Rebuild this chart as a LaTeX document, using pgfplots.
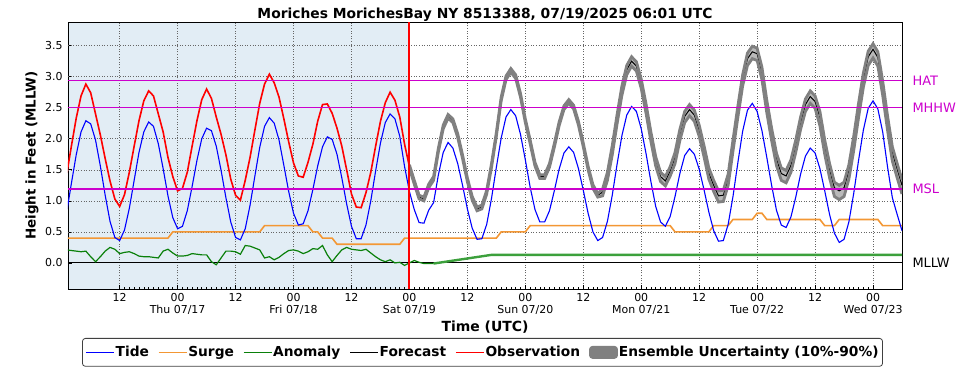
\documentclass[border=0pt]{standalone}
\usepackage{fontspec}
\setmainfont{DejaVu Sans}
\usepackage{pgfplots}
\usepackage{pgfplotstable}
\pgfplotsset{compat=1.18}
\definecolor{bgblue}{RGB}{226,237,245}
\definecolor{tideblue}{RGB}{0,0,255}
\definecolor{surgeorange}{RGB}{243,151,52}
\definecolor{anomgreen}{RGB}{10,128,10}
\definecolor{anomgreenf}{RGB}{60,160,60}
\definecolor{datummag}{RGB}{204,0,204}
\definecolor{ensedge}{RGB}{128,128,128}
\definecolor{ensfill}{RGB}{185,185,185}
\pgfdeclarehorizontalshading{bgsplit}{100bp}{color(0bp)=(bgblue); color(45.47bp)=(bgblue); color(45.48bp)=(white); color(100bp)=(white)}

\pgfplotstableread{
h v
-71 0.80
-70 1.28
-69 1.74
-68 2.11
-67 2.29
-66 2.24
-65 1.98
-64 1.56
-63 1.09
-62 0.67
-61 0.41
-60 0.36
-59 0.53
-58 0.88
-57 1.33
-56 1.78
-55 2.11
-54 2.27
-53 2.20
-52 1.92
-51 1.52
-50 1.08
-49 0.73
-48 0.55
-47 0.59
-46 0.84
-45 1.23
-44 1.65
-43 2.00
-42 2.17
-41 2.13
-40 1.88
-39 1.49
-38 1.05
-37 0.66
-36 0.41
-35 0.37
-34 0.55
-33 0.93
-32 1.40
-31 1.86
-30 2.20
-29 2.34
-28 2.25
-27 1.98
-26 1.57
-25 1.15
-24 0.80
-23 0.61
-22 0.63
-21 0.84
-20 1.18
-19 1.56
-18 1.87
-17 2.03
-16 1.99
-15 1.75
-14 1.37
-13 0.95
-12 0.59
-11 0.39
-10 0.39
-9 0.61
-8 1.00
-7 1.48
-6 1.93
-5 2.26
-4 2.40
-3 2.32
-2 2.04
-1 1.55
0 1.15
1 0.86
2 0.65
3 0.64
4 0.85
5 0.97
6 1.42
7 1.78
8 1.94
9 1.85
10 1.60
11 1.25
12 0.87
13 0.56
14 0.38
15 0.39
16 0.62
17 1.04
18 1.54
19 2.01
20 2.35
21 2.47
22 2.37
23 2.07
24 1.66
25 1.22
26 0.86
27 0.66
28 0.66
29 0.84
30 1.16
31 1.51
32 1.77
33 1.87
34 1.78
35 1.52
36 1.17
37 0.80
38 0.50
39 0.36
40 0.41
41 0.67
42 1.09
43 1.59
44 2.05
45 2.38
46 2.52
47 2.44
48 2.16
49 1.76
50 1.31
51 0.91
52 0.66
53 0.59
54 0.75
55 1.07
56 1.44
57 1.73
58 1.84
59 1.75
60 1.51
61 1.18
62 0.82
63 0.52
64 0.35
65 0.36
66 0.62
67 1.07
68 1.61
69 2.12
70 2.46
71 2.57
72 2.44
73 2.13
74 1.70
75 1.25
76 0.85
77 0.61
78 0.57
79 0.74
80 1.06
81 1.43
82 1.72
83 1.85
84 1.77
85 1.52
86 1.16
87 0.78
88 0.48
89 0.33
90 0.38
91 0.66
92 1.12
93 1.65
94 2.14
95 2.49
96 2.61
97 2.48
98 2.11
99 1.55
100 1.05
101 0.78
102 0.52
}\tidetab

\pgfplotstableread{
h v
-71 1.41
-70 1.88
-69 2.33
-68 2.69
-67 2.88
-66 2.74
-65 2.40
-64 2.06
-63 1.68
-62 1.32
-61 1.03
-60 0.91
-59 1.10
-58 1.46
-57 1.88
-56 2.29
-55 2.61
-54 2.77
-53 2.69
-52 2.40
-51 2.11
-50 1.70
-49 1.39
-48 1.16
-47 1.20
-46 1.46
-45 1.88
-44 2.29
-43 2.63
-42 2.80
-41 2.65
-40 2.35
-39 2.07
-38 1.74
-37 1.35
-36 1.09
-35 1.01
-34 1.33
-33 1.70
-32 2.14
-31 2.57
-30 2.88
-29 3.04
-28 2.90
-27 2.67
-26 2.32
-25 1.95
-24 1.61
-23 1.40
-22 1.38
-21 1.62
-20 1.91
-19 2.28
-18 2.55
-17 2.56
-16 2.41
-15 2.17
-14 1.88
-13 1.50
-12 1.11
-11 0.90
-10 0.89
-9 1.13
-8 1.46
-7 1.88
-6 2.28
-5 2.58
-4 2.75
-3 2.62
-2 2.35
-1 1.91
0 1.55
}\obstab

\pgfplotstableread{
h v
-71 0.21
-70 0.20
-69 0.19
-68 0.18
-67 0.19
-66 0.10
-65 0.02
-64 0.10
-63 0.19
-62 0.25
-61 0.22
-60 0.15
-59 0.17
-58 0.18
-57 0.15
-56 0.11
-55 0.10
-54 0.10
-53 0.09
-52 0.08
-51 0.19
-50 0.22
-49 0.16
-48 0.11
-47 0.11
-46 0.12
-45 0.15
-44 0.14
-43 0.13
-42 0.13
-41 0.02
-40 -0.03
-39 0.08
-38 0.19
-37 0.19
-36 0.18
-35 0.14
-34 0.28
-33 0.27
-32 0.24
-31 0.21
-30 0.08
-29 0.10
-28 0.05
-27 0.09
-26 0.15
-25 0.20
-24 0.21
-23 0.19
-22 0.15
-21 0.18
-20 0.23
-19 0.22
-18 0.28
-17 0.13
-16 0.02
-15 0.12
-14 0.21
-13 0.25
-12 0.22
-11 0.21
-10 0.20
-9 0.22
-8 0.16
-7 0.10
-6 0.05
-5 0.02
-4 0.05
-3 0.00
-2 0.01
-1 -0.04
0 0.00
1 0.04
2 0.01
3 -0.01
5 -0.01
}\anomtab

\pgfplotstableread{
h fc up lo
0 1.55 1.58 1.52
1 1.30 1.33 1.27
2 1.06 1.09 1.03
3 1.03 1.06 1.00
4 1.24 1.27 1.21
5 1.36 1.39 1.33
6 1.82 1.85 1.79
7 2.19 2.22 2.16
8 2.36 2.39 2.33
9 2.29 2.32 2.26
10 2.05 2.08 2.02
11 1.71 1.74 1.68
12 1.34 1.37 1.31
13 1.04 1.07 1.01
14 0.87 0.90 0.84
15 0.90 0.93 0.87
16 1.14 1.17 1.11
17 1.57 1.60 1.54
18 2.07 2.10 2.04
19 2.64 2.67 2.61
20 2.98 3.01 2.95
21 3.10 3.13 3.07
22 3.00 3.03 2.97
23 2.70 2.73 2.67
24 2.29 2.32 2.26
25 1.95 1.98 1.92
26 1.59 1.62 1.56
27 1.39 1.42 1.36
28 1.39 1.42 1.36
29 1.57 1.60 1.54
30 1.89 1.92 1.86
31 2.24 2.27 2.21
32 2.50 2.53 2.47
33 2.60 2.63 2.57
34 2.51 2.54 2.48
35 2.25 2.28 2.22
36 1.90 1.93 1.87
37 1.53 1.56 1.50
38 1.23 1.26 1.20
39 1.09 1.12 1.06
40 1.14 1.19 1.08
41 1.40 1.46 1.33
42 1.82 1.89 1.74
43 2.32 2.39 2.24
44 2.78 2.85 2.70
45 3.11 3.18 3.03
46 3.25 3.32 3.17
47 3.17 3.24 3.09
48 2.89 2.96 2.81
49 2.49 2.56 2.41
50 2.04 2.11 1.96
51 1.64 1.71 1.56
52 1.39 1.46 1.31
53 1.32 1.39 1.24
54 1.48 1.55 1.40
55 1.70 1.78 1.60
56 2.07 2.15 1.97
57 2.36 2.44 2.26
58 2.47 2.55 2.37
59 2.38 2.46 2.28
60 2.14 2.22 2.04
61 1.81 1.89 1.71
62 1.45 1.53 1.35
63 1.25 1.33 1.15
64 1.08 1.16 0.98
65 1.09 1.17 0.99
66 1.35 1.43 1.25
67 1.90 1.98 1.80
68 2.44 2.52 2.34
69 2.95 3.03 2.85
70 3.29 3.38 3.18
71 3.40 3.49 3.29
72 3.37 3.46 3.26
73 3.06 3.15 2.95
74 2.53 2.62 2.42
75 2.08 2.17 1.97
76 1.68 1.77 1.57
77 1.44 1.53 1.33
78 1.40 1.49 1.29
79 1.57 1.66 1.46
80 1.89 1.98 1.78
81 2.26 2.35 2.15
82 2.55 2.64 2.44
83 2.68 2.77 2.57
84 2.60 2.69 2.49
85 2.35 2.44 2.21
86 1.89 1.98 1.75
87 1.51 1.60 1.37
88 1.21 1.30 1.07
89 1.16 1.25 1.02
90 1.21 1.30 1.07
91 1.49 1.58 1.35
92 1.95 2.04 1.81
93 2.48 2.57 2.34
94 2.97 3.06 2.83
95 3.32 3.41 3.18
96 3.44 3.53 3.30
97 3.31 3.40 3.17
98 2.84 2.93 2.70
99 2.28 2.37 2.14
100 1.78 1.87 1.64
101 1.51 1.60 1.37
102 1.25 1.34 1.11
}\fctab

\begin{document}
\begin{tikzpicture}
\begin{axis}[
  at={(0,0)}, anchor=south west,
  scale only axis, width=834bp, height=267bp,
  xmin=-70.7, xmax=102, ymin=-0.42, ymax=3.88,
  clip mode=individual,
  axis background/.style={shade, shading=bgsplit},
  axis line style={black, line width=0.9bp},
  tick pos=left,
  tick style={black, line width=0.6bp},
  major tick length=4bp, minor tick length=2.5bp,
  xtick={-60,-48,-36,-24,-12,0,12,24,36,48,60,72,84,96},
  xticklabels={12,{00\\Thu 07/17},12,{00\\Fri 07/18},12,{00\\Sat 07/19},12,{00\\Sun 07/20},12,{00\\Mon 07/21},12,{00\\Tue 07/22},12,{00\\Wed 07/23}},
  minor x tick num=11,
  xticklabel style={align=center, font=\fontsize{11}{12}\selectfont, yshift=-1bp},
  ytick={0,0.5,1,1.5,2,2.5,3,3.5},
  yticklabel style={font=\fontsize{11}{12}\selectfont, xshift=-2bp,
    /pgf/number format/.cd, fixed, fixed zerofill, precision=1, assume math mode=true},
  xmajorgrids=true,
  ymajorgrids=false,
  major grid style={black!60, line width=0.55bp, dash pattern=on 1bp off 1.6bp},
  xlabel={Time (UTC)},
  xlabel style={font=\fontsize{14}{16}\selectfont\bfseries, at={(axis description cs:0.5,-0.1423)}, anchor=center},
  ylabel={Height in Feet (MLLW)},
  ylabel style={font=\fontsize{13.5}{16}\selectfont\bfseries, at={(axis description cs:-0.0432,0.5)}, anchor=center},
  legend columns=6,
  legend cell align=left,
  legend image code/.code={\draw[#1] (0bp,0bp) -- (28bp,0bp);},
  legend style={at={(0.497,-0.1835)}, anchor=north, draw=black!75, line width=0.8bp, rounded corners=3bp,
    font=\fontsize{13.8}{15}\selectfont\bfseries, inner xsep=3bp, inner ysep=6bp,
    nodes={inner xsep=1bp, inner ysep=2bp},
    /tikz/every even column/.append style={column sep=8bp}},
]
% horizontal grid lines (drawn by hand, the 2.5 one is covered by MHHW)
\draw[black!60, line width=0.55bp, dash pattern=on 1bp off 1.6bp] (axis cs:-70.7,0.5) -- (axis cs:102,0.5);
\draw[black!60, line width=0.55bp, dash pattern=on 1bp off 1.6bp] (axis cs:-70.7,1.0) -- (axis cs:102,1.0);
\draw[black!60, line width=0.55bp, dash pattern=on 1bp off 1.6bp] (axis cs:-70.7,1.5) -- (axis cs:102,1.5);
\draw[black!60, line width=0.55bp, dash pattern=on 1bp off 1.6bp] (axis cs:-70.7,2.0) -- (axis cs:102,2.0);
\draw[black!60, line width=0.55bp, dash pattern=on 1bp off 1.6bp] (axis cs:-70.7,3.0) -- (axis cs:102,3.0);
\draw[black!60, line width=0.55bp, dash pattern=on 1bp off 1.6bp] (axis cs:-70.7,3.5) -- (axis cs:102,3.5);

\addplot[draw=black, line width=1bp, forget plot] coordinates {(-70.7,0) (102,0)};

% ensemble band: 90% forward, 10% backward (opaque light fill)
\addplot[fill=ensfill, draw=none, forget plot] coordinates {
(0,1.58) (1,1.33) (2,1.09) (3,1.06) (4,1.27) (5,1.39) (6,1.85) (7,2.22) (8,2.39) (9,2.32) (10,2.08)
(11,1.74) (12,1.37) (13,1.07) (14,0.90) (15,0.93) (16,1.17) (17,1.60) (18,2.10) (19,2.67) (20,3.01)
(21,3.13) (22,3.03) (23,2.73) (24,2.32) (25,1.98) (26,1.62) (27,1.42) (28,1.42) (29,1.60) (30,1.92)
(31,2.27) (32,2.53) (33,2.63) (34,2.54) (35,2.28) (36,1.93) (37,1.56) (38,1.26) (39,1.12) (40,1.19)
(41,1.46) (42,1.89) (43,2.39) (44,2.85) (45,3.18) (46,3.32) (47,3.24) (48,2.96) (49,2.56) (50,2.11)
(51,1.71) (52,1.46) (53,1.39) (54,1.55) (55,1.78) (56,2.15) (57,2.44) (58,2.55) (59,2.46) (60,2.22)
(61,1.89) (62,1.53) (63,1.33) (64,1.16) (65,1.17) (66,1.43) (67,1.98) (68,2.52) (69,3.03) (70,3.38)
(71,3.49) (72,3.46) (73,3.15) (74,2.62) (75,2.17) (76,1.77) (77,1.53) (78,1.49) (79,1.66) (80,1.98)
(81,2.35) (82,2.64) (83,2.77) (84,2.69) (85,2.44) (86,1.98) (87,1.60) (88,1.30) (89,1.25) (90,1.30)
(91,1.58) (92,2.04) (93,2.57) (94,3.06) (95,3.41) (96,3.53) (97,3.40) (98,2.93) (99,2.37) (100,1.87)
(101,1.60) (102,1.34)
(102,1.11) (101,1.37) (100,1.64) (99,2.14) (98,2.70) (97,3.17) (96,3.30) (95,3.18) (94,2.83) (93,2.34)
(92,1.81) (91,1.35) (90,1.07) (89,1.02) (88,1.07) (87,1.37) (86,1.75) (85,2.21) (84,2.49) (83,2.57)
(82,2.44) (81,2.15) (80,1.78) (79,1.46) (78,1.29) (77,1.33) (76,1.57) (75,1.97) (74,2.42) (73,2.95)
(72,3.26) (71,3.29) (70,3.18) (69,2.85) (68,2.34) (67,1.80) (66,1.25) (65,0.99) (64,0.98) (63,1.15)
(62,1.35) (61,1.71) (60,2.04) (59,2.28) (58,2.37) (57,2.26) (56,1.97) (55,1.60) (54,1.40) (53,1.24)
(52,1.31) (51,1.56) (50,1.96) (49,2.41) (48,2.81) (47,3.09) (46,3.17) (45,3.03) (44,2.70) (43,2.24)
(42,1.74) (41,1.33) (40,1.08) (39,1.06) (38,1.20) (37,1.50) (36,1.87) (35,2.22) (34,2.48) (33,2.57)
(32,2.47) (31,2.21) (30,1.86) (29,1.54) (28,1.36) (27,1.36) (26,1.56) (25,1.92) (24,2.26) (23,2.67)
(22,2.97) (21,3.07) (20,2.95) (19,2.61) (18,2.04) (17,1.54) (16,1.11) (15,0.87) (14,0.84) (13,1.01)
(12,1.31) (11,1.68) (10,2.02) (9,2.26) (8,2.33) (7,2.16) (6,1.79) (5,1.33) (4,1.21) (3,1.00)
(2,1.03) (1,1.27) (0,1.52)};

% forecast
\addplot[black, line width=1bp, forget plot] table[x=h,y=fc]{\fctab};
\addplot[ensedge, line width=2.8bp, forget plot] table[x=h,y=up]{\fctab};
\addplot[ensedge, line width=2.8bp, forget plot] table[x=h,y=lo]{\fctab};

% surge
\addplot[surgeorange, line width=1.6bp, forget plot] coordinates {
(-71,0.4) (-50,0.4) (-49,0.5) (-31,0.5) (-30,0.6) (-21,0.6) (-20,0.5) (-19,0.5) (-18,0.4) (-16,0.4) (-15,0.3)
(-2,0.3) (-1,0.4) (18,0.4) (19,0.5) (24,0.5) (25,0.6) (54,0.6) (55,0.5) (62,0.5) (63,0.6) (66,0.6) (67,0.7)
(71,0.7) (72,0.8) (73,0.8) (74,0.7) (85,0.7) (86,0.6) (88,0.6) (89,0.7) (97,0.7) (98,0.6) (102,0.6)};

% anomaly
\addplot[anomgreenf, line width=2.4bp, forget plot] coordinates {(5,-0.01) (17,0.13) (102,0.13)};
\addplot[anomgreen, line width=1.2bp, forget plot] table[x=h,y=v]{\anomtab};

% tide
\addplot[tideblue, line width=1.1bp, forget plot] table[x=h,y=v]{\tidetab};

% observation
\addplot[red, line width=1.6bp, forget plot] table[x=h,y=v]{\obstab};

% datum lines (on top)
\addplot[draw=datummag, line width=1.2bp, forget plot] coordinates {(-70.7,2.94) (102,2.94)};
\addplot[draw=datummag, line width=1.2bp, forget plot] coordinates {(-70.7,2.50) (102,2.50)};
\addplot[draw=datummag, line width=1.2bp, forget plot] coordinates {(-70.7,1.19) (102,1.19)};

% now line
\addplot[red, line width=2bp, forget plot] coordinates {(0,-0.42) (0,3.88)};

\node[anchor=center, font=\fontsize{13.9}{16}\selectfont\bfseries, yshift=7bp] at (rel axis cs:0.5,1) {Moriches MorichesBay NY 8513388, 07/19/2025 06:01 UTC};
\node[anchor=west, text=datummag, font=\fontsize{13}{15}\selectfont] at (axis cs:102,2.94) {\hspace{7bp}HAT};
\node[anchor=west, text=datummag, font=\fontsize{13}{15}\selectfont] at (axis cs:102,2.50) {\hspace{7bp}MHHW};
\node[anchor=west, text=datummag, font=\fontsize{13}{15}\selectfont] at (axis cs:102,1.19) {\hspace{7bp}MSL};
\node[anchor=west, text=black, font=\fontsize{13}{15}\selectfont] at (axis cs:102,0) {\hspace{7bp}MLLW};

\addlegendimage{tideblue, line width=1.3bp}
\addlegendentry{Tide}
\addlegendimage{surgeorange, line width=1.3bp}
\addlegendentry{Surge}
\addlegendimage{anomgreen, line width=1.3bp}
\addlegendentry{Anomaly}
\addlegendimage{black, line width=1.3bp}
\addlegendentry{Forecast}
\addlegendimage{red, line width=1.3bp}
\addlegendentry{Observation}
\addlegendimage{legend image code/.code={\fill[ensedge] (0bp,-6bp) rectangle (28bp,6bp);}}
\addlegendentry{Ensemble Uncertainty (10\%-90\%)}
\end{axis}
\pgfresetboundingbox
\path[use as bounding box] (-68bp,-81bp) rectangle (901bp,289bp);
\end{tikzpicture}
\end{document}
